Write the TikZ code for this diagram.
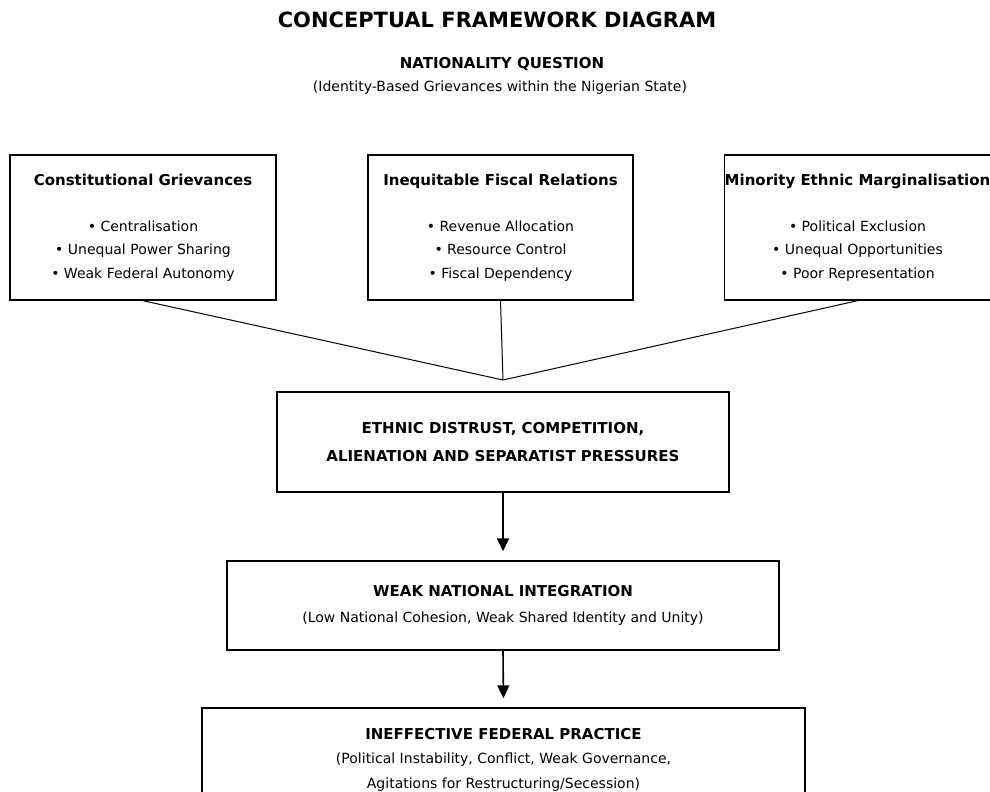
\documentclass[tikz,border=0pt]{standalone}
\usepackage{fontspec}
\setmainfont{DejaVu Sans}
\usetikzlibrary{arrows.meta,positioning}

\tikzset{
  framebox/.style={draw,line width=1.4pt,align=center,inner sep=0pt},
  feed/.style={line width=1pt},
  flow/.style={line width=1.6pt,-{Triangle[width=12pt,length=13pt]},shorten >=9pt}
}
\newcommand{\headfont}{\bfseries\fontsize{15}{18}\selectfont}
\newcommand{\bodyfont}{\fontsize{14}{23.5}\selectfont}

\begin{document}
\begin{tikzpicture}[x=1pt,y=-1pt]
  \useasboundingbox (0,0) rectangle (990,792);
  % heading
  \node[font=\bfseries\fontsize{21}{24}\selectfont] (title) at (497,20) {CONCEPTUAL FRAMEWORK DIAGRAM};
  \node[font=\headfont] (nq) at (502,64) {NATIONALITY QUESTION};
  \node[font=\fontsize{14}{17}\selectfont] (nqsub) at (500,88) {(Identity-Based Grievances within the Nigerian State)};
  % grievance boxes
  \node[framebox,minimum width=266pt,minimum height=145pt,font=\bodyfont] (cg) at (143,227.5)
    {{\headfont Constitutional Grievances}\\[22.5pt] • Centralisation\\ • Unequal Power Sharing\\ • Weak Federal Autonomy};
  \node[framebox,minimum width=265pt,minimum height=145pt,font=\bodyfont] (fr) at (500.5,227.5)
    {{\headfont Inequitable Fiscal Relations}\\[22.5pt] • Revenue Allocation\\ • Resource Control\\ • Fiscal Dependency};
  \node[framebox,minimum width=265pt,minimum height=145pt,font=\bodyfont] (me) at (857.5,227.5)
    {{\headfont Minority Ethnic Marginalisation}\\[22.5pt] • Political Exclusion\\ • Unequal Opportunities\\ • Poor Representation};
  \coordinate (meet) at (503,380);
  \foreach \b in {cg,fr,me}{
    \draw[feed] (\b.south) -- (meet);
  }
  % outcome chain
  \node[framebox,minimum width=452pt,minimum height=100pt,font=\bfseries\fontsize{15}{28}\selectfont] (et) at (503,442)
    {ETHNIC DISTRUST, COMPETITION,\\ALIENATION AND SEPARATIST PRESSURES};
  \node[framebox,minimum width=552pt,minimum height=89pt,font=\fontsize{14}{26}\selectfont] (ni) at (503,605.5)
    {{\headfont WEAK NATIONAL INTEGRATION}\\(Low National Cohesion, Weak Shared Identity and Unity)};
  \node[framebox,minimum width=603pt,minimum height=103pt,font=\fontsize{14}{24.5}\selectfont] (ifp) at (503.5,759.5)
    {{\headfont INEFFECTIVE FEDERAL PRACTICE}\\(Political Instability, Conflict, Weak Governance,\\Agitations for Restructuring/Secession)};
  \draw[flow] (et.south) -- (ni.north);
  \draw[flow] (ni.south) -- (ifp.north);
\end{tikzpicture}
\end{document}
